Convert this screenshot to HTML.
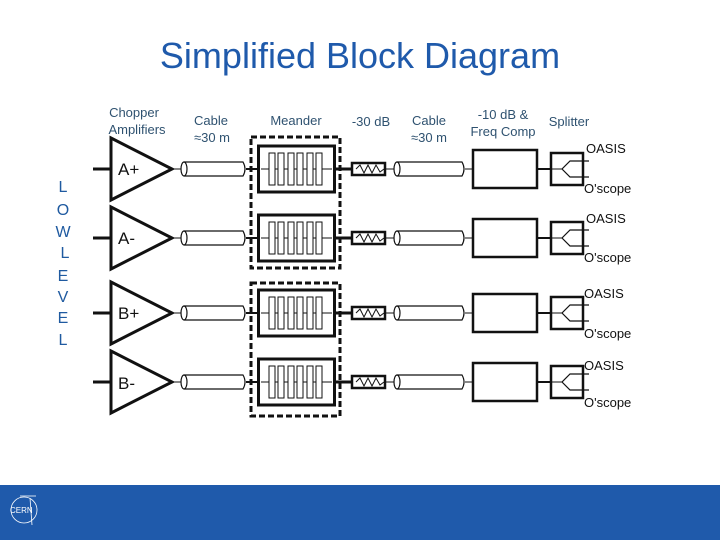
<!DOCTYPE html>
<html><head><style>
body{margin:0;width:720px;height:540px;background:#fff;overflow:hidden;font-family:"Liberation Sans",sans-serif}
</style></head><body>
<svg width="720" height="540" viewBox="0 0 720 540" xmlns="http://www.w3.org/2000/svg" font-family="Liberation Sans, sans-serif">
<text x="360" y="68" text-anchor="middle" font-size="36" fill="#1f5aab">Simplified Block Diagram</text>
<g font-size="13" fill="#2f5270" text-anchor="middle">
<text x="134" y="117">Chopper</text><text x="137" y="134">Amplifiers</text>
<text x="211" y="125">Cable</text><text x="212" y="142">≈30 m</text>
<text x="296" y="125">Meander</text>
<text x="371" y="126">-30 dB</text>
<text x="429" y="125">Cable</text><text x="429" y="142">≈30 m</text>
<text x="503" y="119">-10 dB &amp;</text><text x="503" y="136">Freq Comp</text>
<text x="569" y="126">Splitter</text>
</g>
<g font-size="16" fill="#1f5aa0" text-anchor="middle">
<text x="63" y="192">L</text><text x="63" y="215">O</text><text x="63" y="237">W</text><text x="65" y="258">L</text>
<text x="63" y="281">E</text><text x="63" y="302">V</text><text x="63" y="323">E</text><text x="63" y="345">L</text>
</g>
<g fill="none" stroke="#111" stroke-width="3" stroke-dasharray="6,3">
<rect x="251" y="137" width="89" height="131"/>
<rect x="251" y="283" width="89" height="133"/>
</g>
<defs>
<g id="row">
<line x1="93" y1="0" x2="110" y2="0" stroke="#111" stroke-width="3"/>
<polygon points="111,-31 111,31 172,0" fill="#fff" stroke="#111" stroke-width="3"/>
<line x1="172" y1="0" x2="182" y2="0" stroke="#111" stroke-width="1"/>
<path d="M184,-7 H243 Q247,0 243,7 H184" fill="#fff" stroke="#111" stroke-width="1.2"/>
<ellipse cx="184" cy="0" rx="3" ry="7" fill="#fff" stroke="#111" stroke-width="1.2"/>
<line x1="246" y1="0" x2="258" y2="0" stroke="#111" stroke-width="2"/>
<rect x="258.5" y="-23" width="76" height="46" fill="#fff" stroke="#111" stroke-width="3"/>
<line x1="261" y1="0" x2="332" y2="0" stroke="#111" stroke-width="1"/>
<g fill="#fff" stroke="#111" stroke-width="1">
<rect x="269" y="-16" width="6" height="32"/><rect x="278" y="-16" width="6" height="32"/>
<rect x="288" y="-16" width="6" height="32"/><rect x="297" y="-16" width="6" height="32"/>
<rect x="307" y="-16" width="6" height="32"/><rect x="316" y="-16" width="6" height="32"/>
</g>
<line x1="335" y1="0" x2="352" y2="0" stroke="#111" stroke-width="3"/>
<rect x="352" y="-6" width="33" height="12" fill="#fff" stroke="#111" stroke-width="2.5"/>
<polyline points="356,0 360,-4 364,4 368,-4 372,4 376,-4 380,3 384,0" fill="none" stroke="#111" stroke-width="1"/>
<line x1="385" y1="0" x2="395" y2="0" stroke="#111" stroke-width="1"/>
<path d="M397,-7 H462 Q466,0 462,7 H397" fill="#fff" stroke="#111" stroke-width="1.2"/>
<ellipse cx="397" cy="0" rx="3" ry="7" fill="#fff" stroke="#111" stroke-width="1.2"/>
<line x1="465" y1="0" x2="473" y2="0" stroke="#111" stroke-width="1"/>
<rect x="473" y="-19" width="64" height="38" fill="#fff" stroke="#111" stroke-width="2.5"/>
<line x1="537" y1="0" x2="551" y2="0" stroke="#111" stroke-width="2"/>
<rect x="551" y="-16" width="32" height="32" fill="#fff" stroke="#111" stroke-width="2.5"/>
<line x1="551" y1="0" x2="562" y2="0" stroke="#111" stroke-width="1"/>
<polyline points="589,-8 570,-8 562,0 570,8 589,8" fill="none" stroke="#111" stroke-width="1.2"/>
</g>
</defs>
<use href="#row" y="169"/>
<use href="#row" y="238"/>
<use href="#row" y="313"/>
<use href="#row" y="382"/>
<g font-size="17" fill="#111">
<text x="118" y="175">A+</text><text x="118" y="244">A-</text>
<text x="118" y="319">B+</text><text x="118" y="389">B-</text>
</g>
<g font-size="13" fill="#111">
<text x="586" y="153">OASIS</text><text x="584" y="193">O'scope</text>
<text x="586" y="223">OASIS</text><text x="584" y="262">O'scope</text>
<text x="584" y="298">OASIS</text><text x="584" y="338">O'scope</text>
<text x="584" y="370">OASIS</text><text x="584" y="407">O'scope</text>
</g>
<rect x="0" y="485" width="720" height="55" fill="#1f5aab"/>
<g fill="none" stroke="#fff" stroke-width="0.8">
<circle cx="24" cy="510" r="13"/>
<line x1="20" y1="496" x2="36" y2="496"/>
<line x1="30" y1="498" x2="32" y2="525"/>
</g>
<text x="10" y="513" font-size="8" fill="#fff">CERN</text>
</svg>
</body></html>
